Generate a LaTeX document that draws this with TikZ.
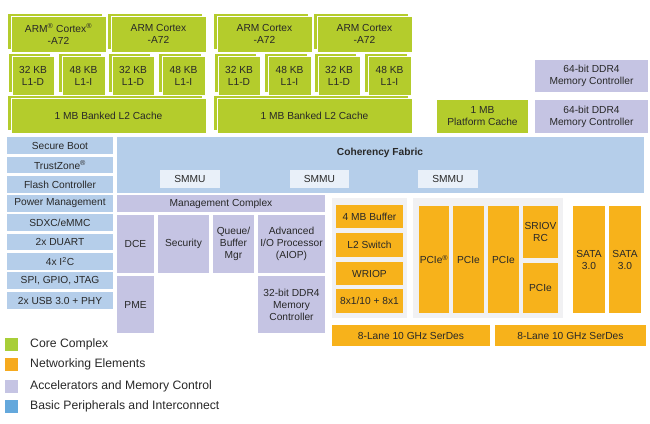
\documentclass[tikz,border=0pt]{standalone}
\usepackage{fontspec}
\setmainfont{Liberation Sans}
\definecolor{cgreen}{RGB}{180,204,44}
\definecolor{corange}{RGB}{247,178,27}
\definecolor{clav}{RGB}{197,196,227}
\definecolor{cblue}{RGB}{181,206,234}
\definecolor{csmmu}{RGB}{233,240,249}
\definecolor{cpanel}{RGB}{241,241,243}
\definecolor{lblue}{RGB}{100,168,220}
\definecolor{lgreen}{RGB}{168,206,56}
\definecolor{lorange}{RGB}{246,170,30}
\definecolor{ctext}{RGB}{40,40,40}
\newcommand\blk[7]{\node[#2, minimum width={(#5-#3)*1pt}, minimum height={(#6-#4)*1pt}] (#1) at ({(#3+#5)/2},{(#4+#6)/2}) {#7};}
\newcommand\cblk[6]{\path[fill=cgreen, draw=white, line width=0.6pt] ({#2-4},{#3-3}) rectangle ({#4-4},{#5-3});
\blk{#1}{gbox}{#2}{#3}{#4}{#5}{#6}}
\tikzset{
 base/.style={rectangle, inner sep=0pt, outer sep=0pt, align=center, text=ctext, font=\fontsize{10.2}{12}\selectfont},
 gbox/.style={base, fill=cgreen, draw=white, line width=0.6pt},
 obox/.style={base, fill=corange},
 lbox/.style={base, fill=clav},
 bbox/.style={base, fill=cblue},
 sbox/.style={base, fill=csmmu},
 panel/.style={base, fill=cpanel},
 fabric/.style={base, fill=cblue, font=\fontsize{10.2}{12}\selectfont\bfseries},
 lsq/.style={rectangle, inner sep=0pt, minimum size=13pt},
 ltext/.style={anchor=west, inner sep=0pt, text=ctext, font=\fontsize{12.2}{14}\selectfont},
}
\begin{document}
\begin{tikzpicture}[x=1pt,y=-1pt]
\useasboundingbox (0,0) rectangle (650,423);
% core cluster 1
\cblk{cA}{11}{16}{106}{52}{ARM\textsuperscript{®} Cortex\textsuperscript{®}\\-A72}
\cblk{cB}{111}{16}{206}{52}{ARM Cortex\\-A72}
\cblk{dA}{12}{56}{54}{95}{32 KB\\L1-D}
\cblk{iA}{62}{56}{105}{95}{48 KB\\L1-I}
\cblk{dB}{112}{56}{154}{95}{32 KB\\L1-D}
\cblk{iB}{162}{56}{205}{95}{48 KB\\L1-I}
\cblk{ltwoA}{11}{98}{206}{133}{1 MB Banked L2 Cache}
% core cluster 2
\cblk{cC}{217}{16}{312}{52}{ARM Cortex\\-A72}
\cblk{cD}{317}{16}{412}{52}{ARM Cortex\\-A72}
\cblk{dC}{218}{56}{260}{95}{32 KB\\L1-D}
\cblk{iC}{268}{56}{311}{95}{48 KB\\L1-I}
\cblk{dD}{318}{56}{360}{95}{32 KB\\L1-D}
\cblk{iD}{368}{56}{411}{95}{48 KB\\L1-I}
\cblk{ltwoB}{217}{98}{412}{133}{1 MB Banked L2 Cache}
% platform cache and DDR
\blk{pcache}{base, fill=cgreen}{437}{100}{528}{133}{1 MB\\Platform Cache}
\blk{ddrA}{lbox}{535}{60}{648}{92}{64-bit DDR4\\Memory Controller}
\blk{ddrB}{lbox}{535}{100}{648}{133}{64-bit DDR4\\Memory Controller}
% peripherals
\blk{p1}{bbox}{7}{137}{113}{154}{Secure Boot}
\blk{p2}{bbox}{7}{157}{113}{173}{TrustZone\textsuperscript{®}}
\blk{p3}{bbox}{7}{176}{113}{193}{Flash Controller}
\blk{p4}{bbox}{7}{195}{113}{212}{Power Management}
\blk{p5}{bbox}{7}{214}{113}{231}{SDXC/eMMC}
\blk{p6}{bbox}{7}{234}{113}{250}{2x DUART}
\blk{p7}{bbox}{7}{253}{113}{270}{4x I\textsuperscript{2}C}
\blk{p8}{bbox}{7}{272}{113}{289}{SPI, GPIO, JTAG}
\blk{p9}{bbox}{7}{292}{113}{309}{2x USB 3.0 + PHY}
% fabric
\blk{fab}{base, fill=cblue}{117}{137}{644}{193}{}
\node[fabric, fill=none] (fabt) at (380,153) {Coherency Fabric};
\blk{sm1}{sbox}{160}{170}{220}{188}{SMMU}
\blk{sm2}{sbox}{290}{170}{349}{188}{SMMU}
\blk{sm3}{sbox}{418}{170}{478}{188}{SMMU}
% management complex
\blk{mc}{lbox}{117}{195}{325}{212}{Management Complex}
\blk{dce}{lbox}{117}{215}{154}{273}{DCE}
\blk{sec}{lbox}{158}{215}{209}{273}{Security}
\blk{qbm}{lbox}{213}{215}{254}{273}{Queue/\\Buffer\\Mgr}
\blk{aiop}{lbox}{258}{215}{325}{273}{Advanced\\I/O Processor\\(AIOP)}
\blk{pme}{lbox}{117}{276}{154}{333}{PME}
\blk{ddrC}{lbox}{258}{276}{325}{333}{32-bit DDR4\\Memory\\Controller}
% networking
\blk{pan1}{panel}{332}{198}{407}{318}{}
\blk{pan2}{panel}{413}{198}{563}{318}{}
\blk{buf}{obox}{336}{205}{403}{228}{4 MB Buffer}
\blk{ltsw}{obox}{336}{233}{403}{257}{L2 Switch}
\blk{wriop}{obox}{336}{262}{403}{285}{WRIOP}
\blk{eth}{obox}{336}{289}{403}{313}{8x1/10 + 8x1}
\blk{pcie1}{obox}{419}{206}{449}{313}{PCIe\textsuperscript{®}}
\blk{pcie2}{obox}{453}{206}{484}{313}{PCIe}
\blk{pcie3}{obox}{488}{206}{519}{313}{PCIe}
\blk{sriov}{obox}{523}{206}{558}{258}{SRIOV\\RC}
\blk{pcie4}{obox}{523}{263}{558}{313}{PCIe}
\blk{sata1}{obox}{573}{206}{605}{313}{SATA\\3.0}
\blk{sata2}{obox}{609}{206}{641}{313}{SATA\\3.0}
\blk{serA}{obox}{332}{325}{490}{346}{8-Lane 10 GHz SerDes}
\blk{serB}{obox}{495}{325}{646}{346}{8-Lane 10 GHz SerDes}
% legend
\node[lsq, fill=lgreen] (lg1) at (11.5,344.5) {};
\node[lsq, fill=lorange] (lg2) at (11.5,364.5) {};
\node[lsq, fill=clav] (lg3) at (11.5,386) {};
\node[lsq, fill=lblue] (lg4) at (11.5,406.5) {};
\node[ltext] (lt1) at (30,344.5) {Core Complex};
\node[ltext] (lt2) at (30,364.5) {Networking Elements};
\node[ltext] (lt3) at (30,386) {Accelerators and Memory Control};
\node[ltext] (lt4) at (30,406.5) {Basic Peripherals and Interconnect};
\end{tikzpicture}
\end{document}
